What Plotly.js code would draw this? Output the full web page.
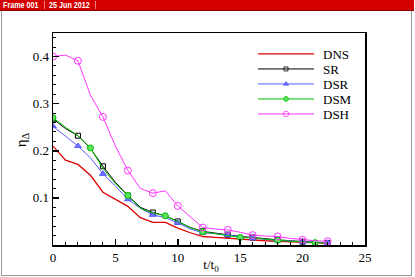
<!DOCTYPE html>
<html>
<head>
<meta charset="utf-8">
<script src="https://cdn.plot.ly/plotly-3.0.1.min.js"></script>
<style>
  html, body { margin:0; padding:0; background:#fff; }
  #wrap { position:relative; width:415px; height:277px; overflow:hidden; }
  #chart { position:absolute; left:0; top:0; width:415px; height:277px; }
  #frame { position:absolute; left:1px; top:0; width:411px; height:276px; border:1px solid #9a9a9a; border-top:none; box-sizing:border-box; pointer-events:none; }
  #hdr { position:absolute; left:0; top:0; width:414px; height:11px; background:#d40000; border-bottom:1px solid #8a0000; box-sizing:border-box; font-family:"Liberation Sans", Arial, sans-serif; font-size:9px; font-weight:bold; color:#fff; line-height:10px; }
  #hdr span { position:absolute; top:0; transform:scaleX(0.8); transform-origin:0 0; white-space:nowrap; }
  #hdr .sep { position:absolute; top:1px; width:1px; height:8px; background:#f08080; }
</style>
</head>
<body>
<div id="wrap">
  <div id="chart"></div>
  <div id="frame"></div>
  <div id="hdr">
    <span style="left:3px">Frame 001</span>
    <div class="sep" style="left:44px"></div>
    <span style="left:49px">25 Jun 2012</span>
    <div class="sep" style="left:95px"></div>
  </div>
</div>
<script>
// time axis (t/t0)
const t = [0,1,2,3,4,5,6,7,8,9,10,11,12,13,14,15,16,17,18,19,20,21,22];

// series values
const DNS = [0.210,0.180,0.171,0.148,0.112,0.097,0.082,0.058,0.048,0.048,0.036,0.026,0.018,0.016,0.014,0.012,0.010,0.009,0.008,0.007,0.006,0.005,0.004];
const SR  = [0.268,0.247,0.232,0.205,0.167,0.133,0.105,0.080,0.069,0.062,0.050,0.037,0.029,0.025,0.022,0.018,0.016,0.013,0.011,0.009,0.007,0.005,0.004];
const DSR = [0.252,0.230,0.210,0.185,0.151,0.125,0.097,0.078,0.064,0.058,0.047,0.034,0.026,0.024,0.021,0.017,0.014,0.012,0.010,0.008,0.007,0.006,0.005];
const DSM = [0.270,0.250,0.232,0.206,0.163,0.130,0.105,0.078,0.068,0.062,0.050,0.037,0.028,0.024,0.021,0.016,0.015,0.012,0.010,0.008,0.007,0.005,0.004];
const DSH = [0.400,0.403,0.391,0.318,0.272,0.210,0.158,0.120,0.110,0.115,0.083,0.060,0.037,0.034,0.032,0.027,0.021,0.019,0.018,0.014,0.011,0.009,0.008];

// which points carry a symbol
const markEvery2 = [0,2,4,6,8,10,12,14,16,18,20,22];
const markEvery3 = [0,3,6,9,12,15,18,21];

const yTickVals = [0.1,0.2,0.3,0.4];
const yTickText = ['0.1','0.2','0.3','0.4'];
const xTickVals = [0,5,10,15,20,25];
const xTickText = ['0','5','10','15','20','25'];

function series(name, y, color, width, symbol, size, marks, fill) {
  const tr = {
    x: t, y: y, name: name, type: 'scatter',
    mode: symbol ? 'lines+markers' : 'lines',
    line: { color: color, width: width, shape: 'linear' }
  };
  if (symbol) {
    tr.marker = { symbol: symbol, size: size, color: fill || color, line: { color: color, width: 1 } };
    tr.selectedpoints = marks;
    tr.selected = { marker: { opacity: 1 } };
    tr.unselected = { marker: { opacity: 0 } };
  }
  return tr;
}

const data = [
  series('DNS', DNS, '#e00000', 1.3),
  series('SR',  SR,  '#000000', 1, 'square-open', 5, markEvery2),
  series('DSR', DSR, '#5a5aff', 1, 'triangle-up', 6, markEvery2, '#7070ff'),
  series('DSM', DSM, '#00c000', 1, 'circle', 6, markEvery3, '#60e060'),
  series('DSH', DSH, '#ff33ff', 1, 'circle-open', 7, markEvery2)
];

const L = 53, R = 50, T = 33, B = 32;
const W = 415, H = 277;
const pw = W - L - R, ph = H - T - B;

const serif = 'Liberation Serif, Times New Roman, serif';

const layout = {
  width: W, height: H,
  margin: { l: L, r: R, t: T, b: B, pad: 0 },
  paper_bgcolor: 'rgba(0,0,0,0)',
  plot_bgcolor: '#ffffff',
  font: { family: serif, size: 12, color: '#000' },
  showlegend: true,
  legend: {
    x: (253 - L) / pw, y: (H - B - 39) / ph,
    xanchor: 'left', yanchor: 'top',
    bgcolor: 'rgba(0,0,0,0)', borderwidth: 0,
    font: { family: serif, size: 13, color: '#000' },
    tracegroupgap: 0, itemwidth: 60,
    traceorder: 'normal'
  },
  xaxis: {
    range: [0, 25], tickvals: xTickVals, ticktext: xTickText,
    ticks: 'inside', ticklen: 6, tickwidth: 1.5, tickcolor: '#000',
    minor: { dtick: 1, tick0: 0, ticks: 'inside', ticklen: 3, tickwidth: 1, tickcolor: '#000' },
    showline: true, linewidth: 1.5, linecolor: '#000', mirror: true,
    showgrid: false, zeroline: false,
    tickfont: { family: serif, size: 13 },
    title: { text: 't/t<sub>0</sub>', font: { family: serif, size: 13 }, standoff: 0 }
  },
  yaxis: {
    range: [0, 0.45], tickvals: yTickVals, ticktext: yTickText,
    ticks: 'inside', ticklen: 6, tickwidth: 1.5, tickcolor: '#000',
    minor: { dtick: 0.02, tick0: 0, ticks: 'inside', ticklen: 3, tickwidth: 1, tickcolor: '#000' },
    showline: true, linewidth: 1.5, linecolor: '#000', mirror: true,
    showgrid: false, zeroline: false,
    tickfont: { family: serif, size: 13 },
    title: { text: 'η<sub>Δ</sub>', font: { family: serif, size: 15 }, standoff: 4 }
  }
};

Plotly.newPlot('chart', data, layout, { staticPlot: true, displayModeBar: false }).then(function (gd) {
  // tighten legend rows to the reference spacing and lengthen the legend lines
  const items = gd.querySelectorAll('.legend .traces');
  let y0 = null;
  items.forEach(function (g, i) {
    const m = /translate\(\s*([-\d.]+)[ ,]+([-\d.]+)\s*\)/.exec(g.getAttribute('transform') || '');
    if (!m) return;
    if (y0 === null) y0 = parseFloat(m[2]);
    g.setAttribute('transform', 'translate(' + m[1] + ',' + (y0 + i * 15) + ')');
  });
  gd.querySelectorAll('.legend .legendlines path').forEach(function (p) {
    p.setAttribute('d', 'M5,0h56');
  });
  gd.querySelectorAll('.legend .legendpoints').forEach(function (g) {
    g.querySelectorAll('path.scatterpts').forEach(function (p) {
      p.setAttribute('transform', 'translate(33,0) scale(0.8)');
    });
  });
  // nudge axis titles to their places in the reference
  const xt = gd.querySelector('.g-xtitle');
  if (xt) xt.setAttribute('transform', 'translate(2,-4)');
  const yt = gd.querySelector('.g-ytitle');
  if (yt) yt.setAttribute('transform', 'translate(2,1)');
});
</script>
</body>
</html>
